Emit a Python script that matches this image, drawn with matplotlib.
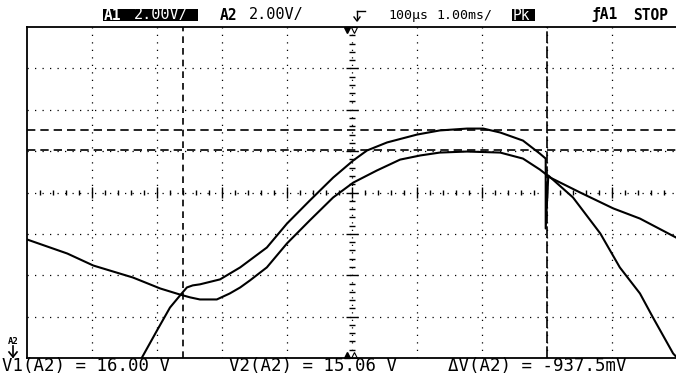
import matplotlib.pyplot as plt
import numpy as np
from matplotlib.patches import Rectangle
from matplotlib.lines import Line2D

# time in divisions (1.00 ms/div), volts on A2 (2.00 V/div, screen centre = 13 V)
t_a = [0.0, 0.62, 1.02, 1.63, 2.05, 2.35, 2.51, 2.66, 2.92, 3.12, 3.28, 3.43, 3.69, 4.0,
       4.35, 4.71, 5.02, 5.38, 5.74, 6.05, 6.35, 6.77, 7.28, 7.63, 7.89, 8.05, 8.51, 9.02,
       9.43, 10.0]
v_a = [10.73, 10.05, 9.47, 8.89, 8.36, 8.07, 7.93, 7.83, 7.83, 8.12, 8.41, 8.75, 9.38, 10.54,
       11.65, 12.76, 13.48, 14.06, 14.59, 14.79, 14.93, 14.98, 14.93, 14.64, 14.11, 13.72,
       13.00, 12.23, 11.74, 10.80]

t_b = [1.66, 1.77, 2.0, 2.2, 2.38, 2.46, 2.55, 2.66, 2.97, 3.28, 3.69, 4.0, 4.35, 4.71,
       5.02, 5.23, 5.54, 6.0, 6.35, 6.77, 7.02, 7.28, 7.63, 7.89, 7.98, 7.98, 8.02, 8.4,
       8.82, 9.12, 9.43, 9.63, 9.94, 10.05]
v_b = [4.16, 5.03, 6.33, 7.44, 8.12, 8.41, 8.51, 8.56, 8.80, 9.38, 10.34, 11.50, 12.61,
       13.72, 14.55, 15.03, 15.42, 15.80, 16.00, 16.09, 16.09, 15.90, 15.51, 14.88, 14.64,
       11.26, 13.82, 12.76, 11.02, 9.38, 8.12, 6.96, 5.22, 4.85]

cursor_t = [2.4, 8.0]
cursor_v = [16.00, 15.06]

W, H = 676, 374
fig = plt.figure(figsize=(W / 100, H / 100), dpi=100)
ax = fig.add_axes([27 / W, 16 / H, 650 / W, 331 / H])
ax.set_xlim(0, 10)
ax.set_ylim(5, 21)
ax.set_xticks([])
ax.set_yticks([])
for s in ax.spines.values():
    s.set_linewidth(1.3)

# graticule
dot = (0, (1, 5))
for x in range(1, 10):
    if x != 5:
        ax.axvline(x, ls=dot, lw=0.9, color="k")
for y in [7, 9, 11, 15, 17, 19]:
    ax.axhline(y, ls=dot, lw=0.9, color="k")
ax.axhline(13, ls=dot, lw=0.9, color="k")
ax.axvline(5, ls=dot, lw=0.9, color="k")

xs = np.round(np.arange(0.2, 10, 0.2), 2)
big = np.isclose(xs % 1, 0) | np.isclose(xs % 1, 1)
ax.vlines(xs, 13 - np.where(big, 0.28, 0.14), 13 + np.where(big, 0.28, 0.14), color="k", lw=1)
ys = np.round(np.arange(5.4, 21, 0.4), 2)
bigy = np.isclose((ys - 5) % 2, 0) | np.isclose((ys - 5) % 2, 2)
ax.hlines(ys, 5 - np.where(bigy, 0.09, 0.045), 5 + np.where(bigy, 0.09, 0.045), color="k", lw=1)

# cursors
ax.axvline(cursor_t[0], ls=(0, (4, 3)), lw=1.2, color="k")
ax.axvline(cursor_t[1], ls=(0, (7, 2)), lw=1.2, color="k")
for v in cursor_v:
    ax.axhline(v, ls=(0, (5, 3)), lw=1.2, color="k")

# traces
ax.plot(t_a, v_a, color="k", lw=1.5)
ax.plot(t_b, v_b, color="k", lw=1.5)

# trigger markers
ax.plot([4.92], [20.85], marker="v", ms=5, color="k", clip_on=False)
ax.plot([5.03], [20.85], marker="v", ms=4, mfc="white", mec="k", mew=0.8, clip_on=False)
ax.plot([4.92], [5.15], marker="^", ms=5, color="k", clip_on=False)
ax.plot([5.03], [5.15], marker="^", ms=4, mfc="white", mec="k", mew=0.8, clip_on=False)


def fx(px):
    return px / W


def fy(py):
    return 1 - py / H


mono = "DejaVu Sans Mono"
top = 15

fig.patches.append(Rectangle((fx(103), fy(21)), 95 / W, 12 / H, transform=fig.transFigure,
                             fc="k", ec="none"))
fig.patches.append(Rectangle((fx(512), fy(21)), 23 / W, 12 / H, transform=fig.transFigure,
                             fc="k", ec="none"))
fig.text(fx(104), fy(top), "A1", family=mono, weight="bold", size=10.5, color="white", va="center")
fig.text(fx(134), fy(top), "2.00V/", family=mono, size=11, color="white", va="center")
fig.text(fx(220), fy(top), "A2", family=mono, weight="bold", size=10.5, va="center")
fig.text(fx(249), fy(top), "2.00V/", family=mono, size=11, va="center")
fig.text(fx(388), fy(top), "100µs", family=mono, size=9.5, va="center")
fig.text(fx(436), fy(top), "1.00ms/", family=mono, size=9.5, va="center")
fig.text(fx(513), fy(top), "Pk", family=mono, size=10.5, color="white", va="center")
fig.text(fx(591), fy(top), "ƒA1", family=mono, weight="bold", size=10.5, va="center")
fig.text(fx(633), fy(top), "STOP", family=mono, weight="bold", size=10.5, va="center")

# trigger level symbol
fig.add_artist(Line2D([fx(357), fx(365)], [fy(11), fy(11)], color="k", lw=1))
fig.add_artist(Line2D([fx(357), fx(357)], [fy(11), fy(20)], color="k", lw=1))
fig.add_artist(Line2D([fx(354), fx(357), fx(360)], [fy(17), fy(21), fy(17)], color="k", lw=1))

# channel marker on the left
fig.text(fx(8), fy(341), "A2", family=mono, weight="bold", size=6.5, va="center")
fig.add_artist(Line2D([fx(13), fx(13)], [fy(346), fy(357)], color="k", lw=1.2))
fig.add_artist(Line2D([fx(9), fx(13), fx(17)], [fy(352), fy(357), fy(352)], color="k", lw=1.2))

bot = 366
fig.text(fx(2), fy(bot), "V1(A2) = 16.00 V", family=mono, size=12.5, va="center")
fig.text(fx(229), fy(bot), "V2(A2) = 15.06 V", family=mono, size=12.5, va="center")
fig.text(fx(448), fy(bot), "ΔV(A2) = -937.5mV", family=mono, size=12.5, va="center")

fig.savefig("out.png", dpi=100, facecolor="white")
